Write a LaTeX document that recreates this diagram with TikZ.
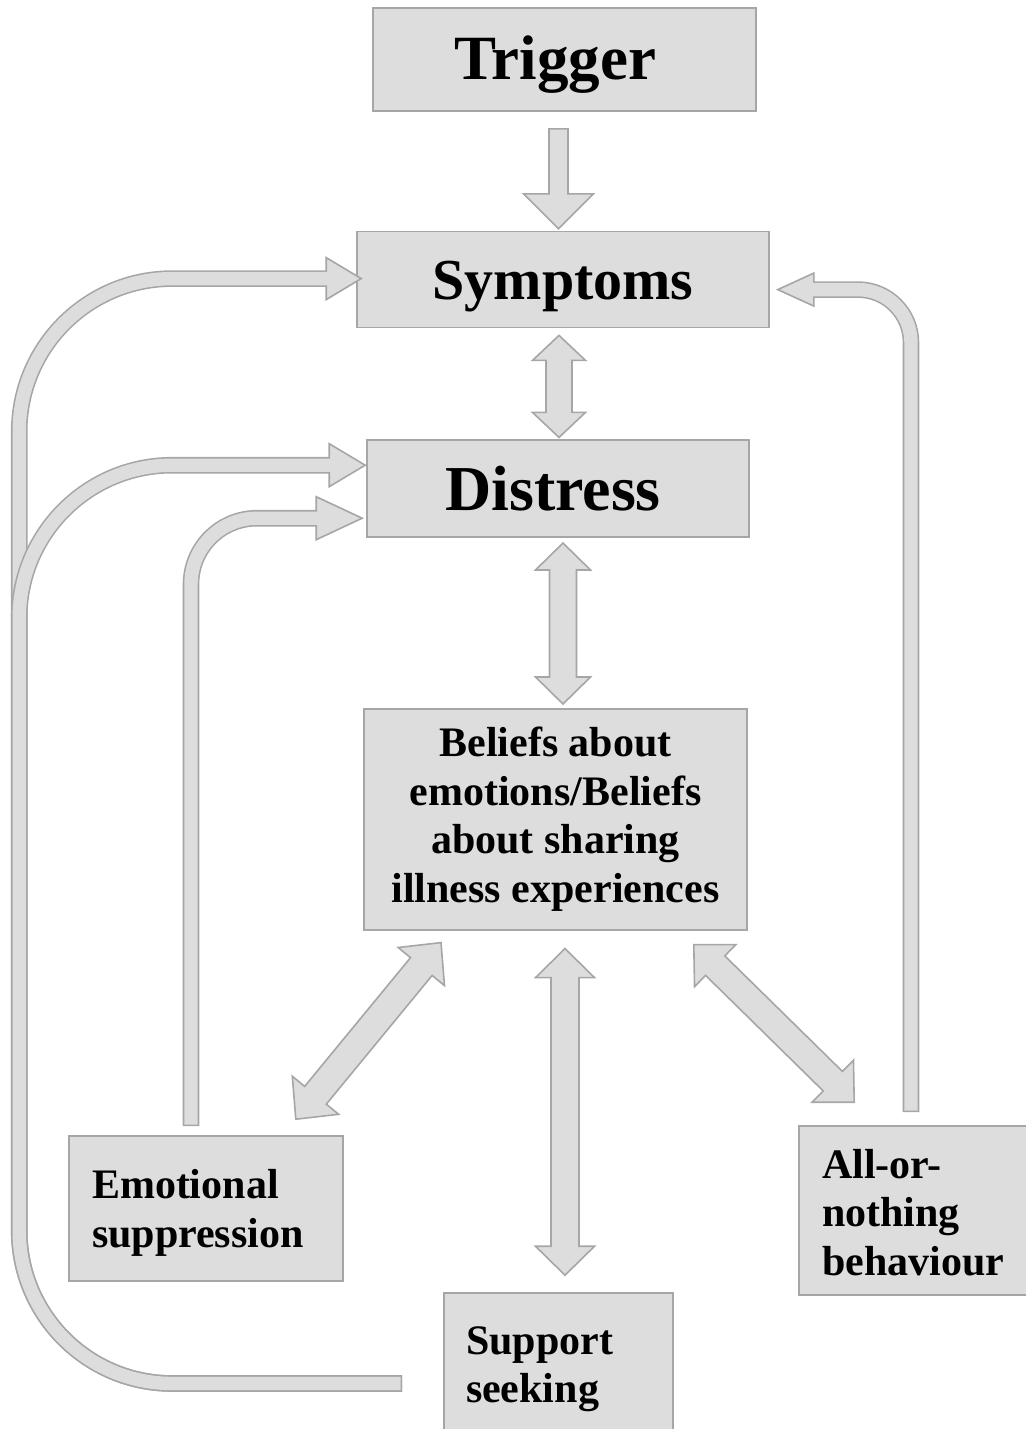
\documentclass[tikz,border=0pt]{standalone}
\usepackage{fontspec}
\setmainfont{Liberation Serif}
\usepackage{xcolor}
\usetikzlibrary{positioning, calc}
\definecolor{boxfill}{HTML}{DDDDDD}
\definecolor{boxline}{HTML}{A6A6A6}

% straight block arrow: tail, tip, shaft half width, head half width, head length
\newcommand{\onearrow}[5]{%
  \draw[blockarrow] ($(#1)!#3!90:(#2)$)
    -- ($(#2)!#5!(#1)!#3!-90:(#1)$) -- ($(#2)!#5!(#1)!#4!-90:(#1)$)
    -- (#2)
    -- ($(#2)!#5!(#1)!#4!90:(#1)$) -- ($(#2)!#5!(#1)!#3!90:(#1)$)
    -- ($(#1)!#3!-90:(#2)$) -- cycle;}
% double block arrow: tip, tip, shaft half width, head half width, head length
\newcommand{\twoarrow}[5]{%
  \draw[blockarrow] (#1)
    -- ($(#1)!#5!(#2)!#4!90:(#2)$) -- ($(#1)!#5!(#2)!#3!90:(#2)$)
    -- ($(#2)!#5!(#1)!#3!-90:(#1)$) -- ($(#2)!#5!(#1)!#4!-90:(#1)$)
    -- (#2)
    -- ($(#2)!#5!(#1)!#4!90:(#1)$) -- ($(#2)!#5!(#1)!#3!90:(#1)$)
    -- ($(#1)!#5!(#2)!#3!-90:(#2)$) -- ($(#1)!#5!(#2)!#4!-90:(#2)$)
    -- cycle;}
% bent block arrow: path up to last corner, head base, tip, head half width, corner radius
\newcommand{\bentarrow}[5]{%
  \draw[shaftout, rounded corners=#5] #1 -- (#2);
  \draw[blockarrow] (#3) -- ($(#2)!#4!90:(#3)$) -- ($(#2)!#4!-90:(#3)$) -- cycle;
  \draw[shaftin, rounded corners=#5] #1 -- ($(#2)!2pt!(#3)$);}

\begin{document}
\begin{tikzpicture}[x=1pt, y=-1pt, line width=1.6pt,
    box/.style={draw=boxline, fill=boxfill, rectangle, inner sep=0pt},
    big/.style={font=\fontsize{63}{63}\selectfont\bfseries},
    small/.style={font=\fontsize{42}{48.5}\selectfont\bfseries},
    blockarrow/.style={draw=boxline, fill=boxfill, line join=miter},
    shaftout/.style={draw=boxline, line width=16.6pt},
    shaftin/.style={draw=boxfill, line width=13.4pt, shorten <=1.6pt}]
    \useasboundingbox (0,0) rectangle (1025,1429);

    % Boxes
    \node[box, big, text height=41pt, text depth=0pt, minimum width=383pt, minimum height=103pt] (Trigger) at (564.5,59.5) {\kern-18pt Trigger};
    \node[box, font=\fontsize{58}{58}\selectfont\bfseries, text height=40pt, text depth=0pt, minimum width=412pt, minimum height=96pt, below=119pt of Trigger, xshift=-1.5pt] (Symptoms) {Symptoms};
    \node[box, font=\fontsize{64}{64}\selectfont\bfseries, minimum width=382pt, minimum height=97pt, below=111pt of Symptoms, xshift=-5pt] (Distress) {\kern-10pt Distress};
    \node[box, small, align=center, minimum width=383pt, minimum height=221pt, below=170pt of Distress, xshift=-2.5pt] (Beliefs) {Beliefs about\\emotions/Beliefs\\about sharing\\illness experiences};
    \node[box, small, align=left, text width=228pt, minimum width=274pt, minimum height=145pt] (Emotional) at (206,1208.5) {\rule{0pt}{38pt}Emotional\\suppression};
    \node[box, small, align=left, text width=185pt, minimum width=229pt, minimum height=142pt] (Support) at (558.5,1364) {\rule{0pt}{38pt}Support\\seeking};
    \node[box, small, align=left, text width=228pt, minimum width=274pt, minimum height=169pt] (AllOrNothing) at (936,1210.5) {\rule{0pt}{33pt}All-or-\\nothing\\behaviour};

    % Arrow ends
    \coordinate (TrigOut) at ($(Trigger.south)+(-6,17)$);
    \coordinate (SymTop) at ($(Symptoms.north)+(-4.5,-2)$);
    \coordinate (SymBottom) at ($(Symptoms.south)+(-4,7)$);
    \coordinate (DisTop) at ($(Distress.north)+(1,-2)$);
    \coordinate (DisBottom) at ($(Distress.south)+(5,5)$);
    \coordinate (BelTop) at ($(Beliefs.north)+(7.5,-4)$);
    \coordinate (BelBottom) at ($(Beliefs.south)+(9.5,18)$);
    \coordinate (BelLeft) at ($(Beliefs.south)+(-114.5,12)$);
    \coordinate (BelRight) at ($(Beliefs.south east)+(-54,14)$);
    \coordinate (SupTop) at ($(Support.north)+(6.5,-17)$);
    \coordinate (EmoCorner) at ($(Emotional.north east)+(-48,-16)$);
    \coordinate (AllCorner) at ($(AllOrNothing.north west)+(56,-23)$);

    % Straight arrows
    \onearrow{TrigOut}{SymTop}{9.5pt}{35pt}{35pt}
    \twoarrow{SymBottom}{DisTop}{13pt}{26.5pt}{25pt}
    \twoarrow{DisBottom}{BelTop}{13.5pt}{27.5pt}{27pt}
    \twoarrow{BelBottom}{SupTop}{14pt}{29.5pt}{29pt}
    \twoarrow{BelLeft}{EmoCorner}{14pt}{30pt}{31pt}
    \twoarrow{BelRight}{AllCorner}{13.7pt}{29.5pt}{30pt}

    % Feedback loops
    \coordinate (LeftRail) at ($(Emotional.west)+(-49,0)$);
    \coordinate (SupOut) at ($(Support.west)+(-41,19.5)$);
    \coordinate (SymLeftTip) at ($(Symptoms.west)+(5,-1)$);
    \coordinate (SymLeftBase) at ($(SymLeftTip)+(-35,0)$);
    \coordinate (DisLeftTip) at ($(Distress.west)+(-1,-23.5)$);
    \coordinate (DisLeftBase) at ($(DisLeftTip)+(-36,0)$);
    \coordinate (EmoOut) at ($(Emotional.north)+(-15,-9)$);
    \coordinate (DisLowTip) at ($(Distress.west)+(-4,29.5)$);
    \coordinate (DisLowBase) at ($(DisLowTip)+(-46,0)$);
    \coordinate (AllOut) at ($(AllOrNothing.north)+(-25,-13)$);
    \coordinate (SymRightTip) at ($(Symptoms.east)+(8,10)$);
    \coordinate (SymRightBase) at ($(SymRightTip)+(36,0)$);

    \bentarrow{(SupOut) -| (SymLeftBase -| LeftRail)}{SymLeftBase}{SymLeftTip}{21pt}{153pt}
    \bentarrow{(SupOut) -| (DisLeftBase -| LeftRail)}{DisLeftBase}{DisLeftTip}{21.5pt}{153pt}
    \bentarrow{(EmoOut) -- (EmoOut |- DisLowBase)}{DisLowBase}{DisLowTip}{21.5pt}{66pt}
    \bentarrow{(AllOut) -- (AllOut |- SymRightBase)}{SymRightBase}{SymRightTip}{16.5pt}{53pt}
\end{tikzpicture}
\end{document}
